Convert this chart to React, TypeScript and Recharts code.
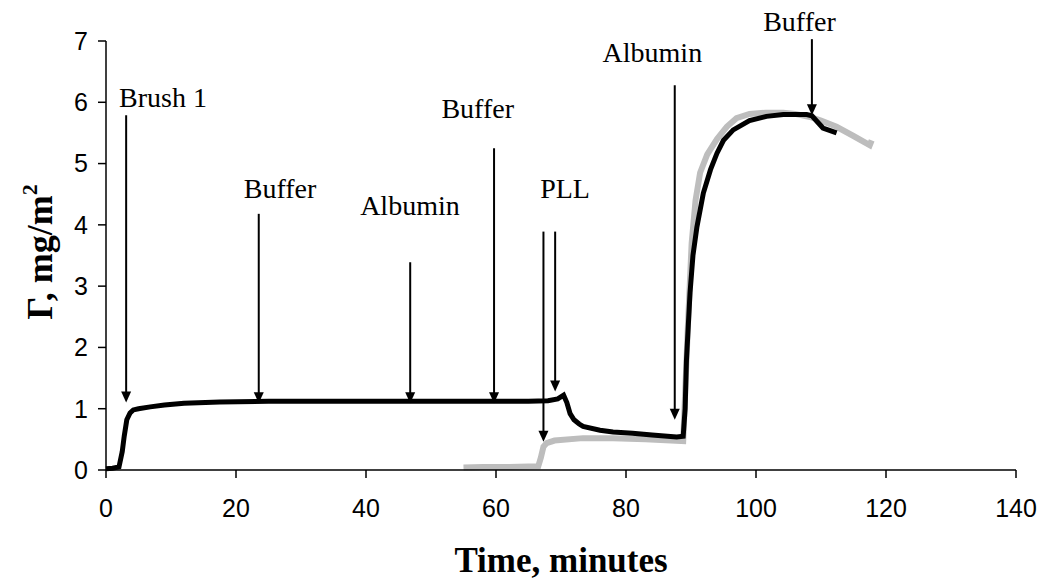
import { LineChart, Line, XAxis, YAxis, ReferenceLine, ReferenceDot, Label } from "recharts";

// black trace: brush 1, buffer, albumin, buffer, PLL, albumin, buffer
const brushTime = [0, 1, 2, 2.5, 2.8, 3.2, 3.7, 4.2, 5, 6.8, 9, 12, 17.5, 25, 35, 45, 55, 60, 65, 68, 69.5, 70.4, 70.9, 71.4, 72, 72.8, 73.4, 76, 78, 81, 84, 87.8, 88.8, 89.1, 89.3, 89.85, 90.3, 90.9, 91.9, 93, 94, 95, 96.5, 99, 101.6, 104.2, 107.8, 108.6, 110.3, 112.4];
const brushGamma = [0.02, 0.03, 0.05, 0.3, 0.55, 0.82, 0.93, 0.98, 1.0, 1.03, 1.06, 1.09, 1.11, 1.12, 1.12, 1.12, 1.12, 1.12, 1.12, 1.13, 1.16, 1.22, 1.1, 0.92, 0.82, 0.75, 0.71, 0.65, 0.62, 0.6, 0.57, 0.54, 0.55, 1.0, 1.79, 2.89, 3.5, 3.96, 4.52, 4.9, 5.17, 5.38, 5.55, 5.7, 5.77, 5.8, 5.8, 5.78, 5.58, 5.5];

// grey trace: PLL layer, then albumin and buffer
const pllTime = [55, 58, 62, 66.5, 66.9, 67.3, 67.8, 69, 73.4, 78, 83, 88.8, 89.1, 89.5, 90.1, 90.7, 91.4, 92.5, 94, 95.5, 97, 99, 101.5, 104.2, 106, 108.3, 110, 112.4, 115, 117.5, 117.8];
const pllGamma = [0.04, 0.05, 0.05, 0.06, 0.2, 0.38, 0.44, 0.48, 0.52, 0.52, 0.5, 0.47, 1.25, 2.3, 3.7, 4.4, 4.85, 5.15, 5.4, 5.6, 5.74, 5.81, 5.83, 5.83, 5.81, 5.76, 5.7, 5.6, 5.45, 5.3, 5.38];

const xTicks = [0, 20, 40, 60, 80, 100, 120, 140];
const yTicks = [0, 1, 2, 3, 4, 5, 6, 7];

// arrows: time, start value, tip value
const arrowTime = [3.1, 23.5, 46.8, 59.7, 67.3, 69.1, 87.5, 108.6];
const arrowFrom = [5.79, 4.18, 3.39, 5.25, 3.89, 3.89, 6.28, 7.03];
const arrowTo = [1.1, 1.09, 1.09, 1.09, 0.46, 1.28, 0.82, 5.79];

// event labels (left edge, baseline)
const eventNames = ["Brush 1", "Buffer", "Albumin", "Buffer", "PLL", "Albumin", "Buffer"];
const eventTime = [2.0, 21.2, 39.1, 51.6, 66.8, 76.4, 101.1];
const eventGamma = [5.92, 4.44, 4.16, 5.74, 4.44, 6.66, 7.16];

const brushData = brushTime.map((t, i) => ({ t, g: brushGamma[i] }));
const pllData = pllTime.map((t, i) => ({ t, g: pllGamma[i] }));

const serif = "'Liberation Serif', 'Times New Roman', serif";
const sans = "'Liberation Sans', Arial, sans-serif";

function Arrow(props: any) {
  const { x1, y1, x2, y2 } = props;
  const h = 11;
  const w = 5;
  return (
    <g>
      <line x1={x1} y1={y1} x2={x2} y2={y2 - h + 1} stroke="#000" strokeWidth={2} />
      <polygon points={`${x2 - w},${y2 - h} ${x2 + w},${y2 - h} ${x2},${y2}`} fill="#000" />
    </g>
  );
}

export default function App() {
  return (
    <div style={{ position: "absolute", left: 0, top: 0 }}>
      <LineChart width={1042} height={586} margin={{ top: 41, right: 26, left: 0, bottom: 0 }}>
        <XAxis
          type="number"
          dataKey="t"
          domain={[0, 140]}
          ticks={xTicks}
          height={116}
          tickSize={8}
          tickMargin={21}
          stroke="#000"
          strokeWidth={1.5}
          tick={{ fill: "#000", fontSize: 25, fontFamily: sans }}
        >
          <Label
            content={() => (
              <text x={561} y={572} textAnchor="middle" fontFamily={serif} fontWeight="bold" fontSize={35}>
                Time, minutes
              </text>
            )}
          />
        </XAxis>
        <YAxis
          type="number"
          domain={[0, 7]}
          ticks={yTicks}
          width={106}
          tickSize={8}
          tickMargin={10}
          stroke="#000"
          strokeWidth={1.5}
          tick={{ fill: "#000", fontSize: 25, fontFamily: sans }}
        >
          <Label
            content={() => (
              <text transform="translate(52,252) rotate(-90)" textAnchor="middle" fontFamily={serif} fontWeight="bold" fontSize={36}>
                Γ, mg/m<tspan dy={-15} fontSize={22}>2</tspan>
              </text>
            )}
          />
        </YAxis>
        <Line data={pllData} dataKey="g" type="linear" stroke="#bdbdbd" strokeWidth={6} dot={false} isAnimationActive={false} />
        <Line data={brushData} dataKey="g" type="linear" stroke="#000" strokeWidth={5} dot={false} isAnimationActive={false} />
        {arrowTime.map((t, i) => (
          <ReferenceLine
            key={"a" + i}
            segment={[{ x: t, y: arrowFrom[i] }, { x: t, y: arrowTo[i] }]}
            ifOverflow="visible"
            shape={Arrow}
          />
        ))}
        {eventNames.map((name, i) => (
          <ReferenceDot
            key={"e" + i}
            x={eventTime[i]}
            y={eventGamma[i]}
            ifOverflow="visible"
            shape={(p: any) => (
              <text x={p.cx} y={p.cy} fontFamily={serif} fontSize={28} fill="#000">
                {name}
              </text>
            )}
          />
        ))}
      </LineChart>
    </div>
  );
}
